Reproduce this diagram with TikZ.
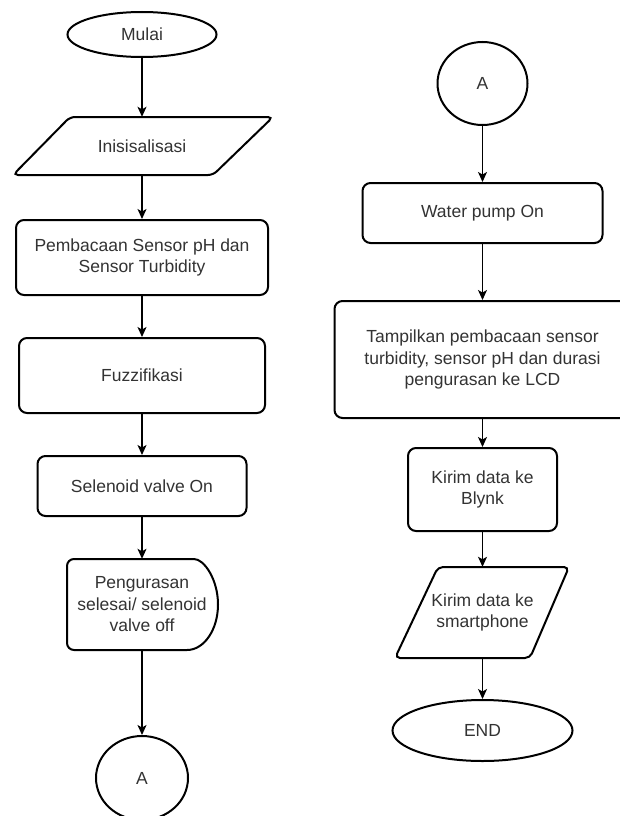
\documentclass[tikz,border=0pt]{standalone}
\usepackage{fontspec}
\setmainfont{Liberation Sans}
\usetikzlibrary{shapes.geometric,arrows.meta}
\definecolor{txt}{HTML}{333333}
\tikzset{
  base/.style={text=txt, font=\fontsize{17.5pt}{21.5pt}\selectfont, align=center, inner sep=0pt},
  border/.style={draw=black, line width=2pt},
  proc/.style={base, border, rectangle, rounded corners=8pt},
  term/.style={base, border, ellipse},
  plain/.style={base, rectangle},
  arr/.style={draw=black, line width=1.3pt, -{Stealth[length=10pt,width=9pt,inset=2.5pt]}}
}
\begin{document}
\begin{tikzpicture}[x=1pt,y=-1pt]
\clip (0,0) rectangle (620,816);
\fill[white] (0,0) rectangle (620,816);
% left column
\node[term, minimum width=149pt, minimum height=45pt] (mulai) at (142,34.5) {Mulai};
\node[plain, minimum width=200pt, minimum height=58pt] (init) at (142,146) {Inisisalisasi};
\draw[border, rounded corners=5pt] (70,117) -- (273,117) -- (213,175) -- (13,175) -- cycle;
\node[proc, minimum width=252pt, minimum height=75pt] (baca) at (142,257.5) {Pembacaan Sensor pH dan\\Sensor Turbidity};
\node[proc, minimum width=246pt, minimum height=75pt] (fuzzy) at (142,375.5) {Fuzzifikasi};
\node[proc, minimum width=209pt, minimum height=60pt] (valve) at (142,486) {Selenoid valve On};
\node[plain, minimum width=151pt, minimum height=91pt] (kuras) at (142,604.5) {Pengurasan\\selesai/ selenoid\\valve off};
\draw[border] (187,650) [rounded corners=7pt] -- (67,650) -- (67,559) -- (187,559) [sharp corners]
  .. controls (204.1,559) and (218,579.4) .. (218,604.5)
  .. controls (218,629.6) and (204.1,650) .. (187,650) -- cycle;
\node[term, minimum width=92pt, minimum height=84pt] (aL) at (142,778) {A};
% right column
\node[term, minimum width=90pt, minimum height=83pt] (aR) at (482.5,83.5) {A};
\node[proc, minimum width=240pt, minimum height=60pt] (pump) at (482.5,213) {Water pump On};
\node[proc, minimum width=296pt, minimum height=117pt] (lcd) at (482.5,359.5) {Tampilkan pembacaan sensor\\turbidity, sensor pH dan durasi\\pengurasan ke LCD};
\node[proc, minimum width=149pt, minimum height=83pt] (blynk) at (482.5,489.5) {Kirim data ke\\Blynk};
\node[plain, minimum width=130pt, minimum height=91pt] (phone) at (482.5,612.5) {Kirim data ke\\smartphone};
\draw[border, rounded corners=5pt] (438,567) -- (569,567) -- (530,658) -- (395,658) -- cycle;
\node[term, minimum width=180pt, minimum height=61pt] (end) at (482.5,730.5) {END};
% connectors
\draw[arr] (mulai) -- (init);
\draw[arr] (init) -- (baca);
\draw[arr] (baca) -- (fuzzy);
\draw[arr] (fuzzy) -- (valve);
\draw[arr] (valve) -- (kuras);
\draw[arr] (kuras) -- (aL);
\draw[arr] (aR) -- (pump);
\draw[arr] (pump) -- (lcd);
\draw[arr] (lcd) -- (blynk);
\draw[arr] (blynk) -- (phone);
\draw[arr] (phone) -- (end);
\end{tikzpicture}
\end{document}
